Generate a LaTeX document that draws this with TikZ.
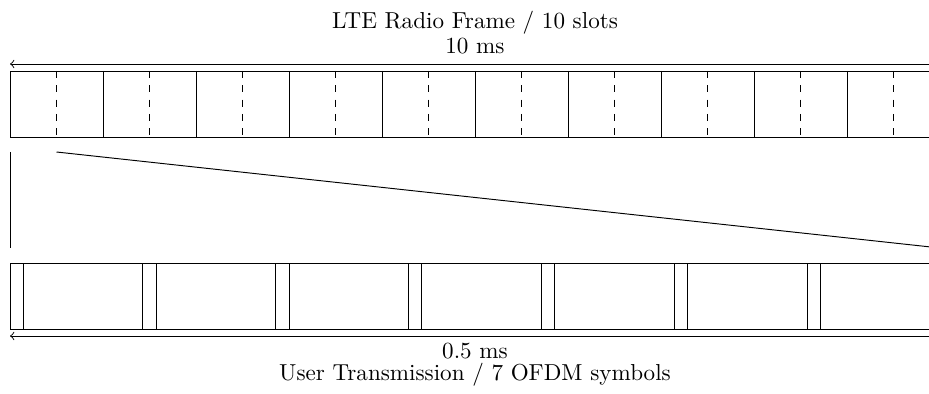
\documentclass[tikz,border=0pt]{standalone}
\usetikzlibrary{calc}
\begin{document}
\begin{tikzpicture}[x=0.42pt,y=-0.42pt,
  frame/.style={draw,line width=0.4pt},
  halfline/.style={draw,dashed,line width=0.4pt},
  dim/.style={draw,<->,line width=0.4pt},
  lbl/.style={inner sep=0pt,anchor=base,font=\fontsize{9.7}{12}\selectfont}]
\useasboundingbox (0,0) rectangle (929,394);
\clip (0,0) rectangle (929,394);
% top frame
\coordinate (tl) at (10,71);
\coordinate (tr) at (940,137);
\draw[frame] (tl) rectangle (tr);
\foreach \k in {1,...,9} \draw[frame] ({10+93*\k},71) -- ({10+93*\k},137);
\foreach \k in {0,...,9} \draw[halfline] ({56.5+93*\k},71) -- ({56.5+93*\k},137);
% top dimension
\coordinate (ta) at (10,64);
\coordinate (tb) at (940,64);
\draw[dim] (ta) -- (tb);
\node[lbl] (tms) at (475,54) {10 ms};
\node[lbl] (title) at (475,29) {LTE Radio Frame / 10 slots};
% zoom lines
\coordinate (z1) at (10,152);
\coordinate (z2) at (10,248);
\coordinate (z3) at (56.5,152);
\coordinate (z4) at (940,248);
\draw[frame] (z1) -- (z2);
\draw[frame] (z3) -- (z4);
% bottom frame
\coordinate (bl) at (10,263);
\coordinate (br) at (940,329);
\draw[frame] (bl) rectangle (br);
\foreach \k in {0,...,6} {
  \pgfmathsetmacro\s{10+930/7*\k}
  \draw[frame] (\s,263) -- (\s,329);
  \draw[frame] ({\s+13.3},263) -- ({\s+13.3},329);
}
% bottom dimension
\coordinate (ba) at (10,336);
\coordinate (bb) at (940,336);
\draw[dim] (ba) -- (bb);
\node[lbl] (bms) at (475,358) {0.5 ms};
\node[lbl] (sub) at (475,380) {User Transmission / 7 OFDM symbols};
\end{tikzpicture}
\end{document}
